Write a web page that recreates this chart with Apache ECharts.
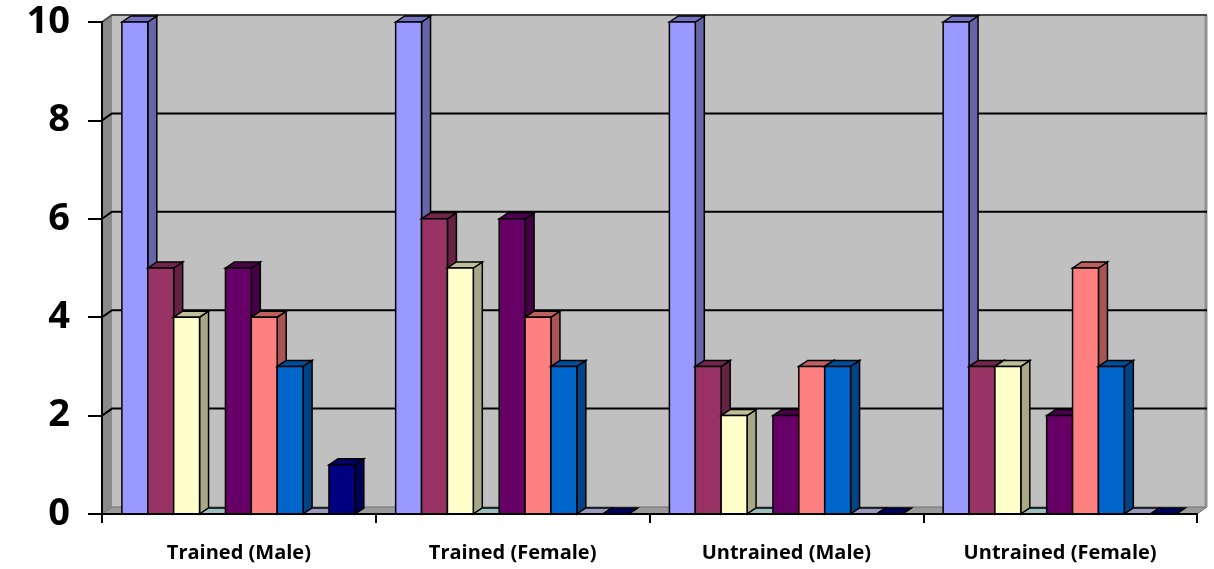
<!DOCTYPE html>
<html>
<head>
<meta charset="utf-8">
<script src="https://cdn.jsdelivr.net/npm/echarts@6/dist/echarts.min.js"></script>
<style>
  html, body { margin: 0; padding: 0; background: #ffffff; }
  #chart { width: 1214px; height: 569px; }
</style>
</head>
<body>
<div id="chart"></div>
<script>
// Groups along the x axis
const categories = ['Trained (Male)', 'Trained (Female)', 'Untrained (Male)', 'Untrained (Female)'];

// One array per column series (values per group)
const series1 = [10, 10, 10, 10];
const series2 = [5, 6, 3, 3];
const series3 = [4, 5, 2, 3];
const series4 = [0, 0, 0, 0];
const series5 = [5, 6, 2, 2];
const series6 = [4, 4, 3, 5];
const series7 = [3, 3, 3, 3];
const series8 = [0, 0, 0, 0];
const series9 = [1, 0, 0, 0];

// Value axis ticks
const yTicks = [0, 2, 4, 6, 8, 10];

const seriesValues = [series1, series2, series3, series4, series5, series6, series7, series8, series9];
const seriesColors = ['#9999FF', '#993366', '#FFFFCC', '#CCFFFF', '#660066', '#FF8080', '#0066CC', '#CCCCFF', '#000080'];

// Pseudo-3D depth of the walls and of the columns
const WALL_DX = 10, WALL_DY = -7;
const BAR_DX = 9, BAR_DY = -6;
// Column layout inside one category band
const GAP_FRAC = 20 / 275;
const BAR_FRAC = 26 / 275;

function shade(hex, f) {
  const n = parseInt(hex.slice(1), 16);
  const r = Math.round(((n >> 16) & 255) * f);
  const g = Math.round(((n >> 8) & 255) * f);
  const b = Math.round((n & 255) * f);
  return 'rgb(' + r + ',' + g + ',' + b + ')';
}

// Back wall, left side wall, floor and gridlines
function renderWalls(params, api) {
  const cs = params.coordSys;
  const x0 = cs.x, x1 = cs.x + cs.width;
  const yMax = yTicks[yTicks.length - 1];
  const yTop = api.coord([0, yMax])[1];
  const yBase = api.coord([0, yTicks[0]])[1];
  const children = [];
  children.push({
    type: 'rect',
    shape: { x: x0 + WALL_DX, y: yTop + WALL_DY, width: x1 - x0, height: yBase - yTop },
    style: { fill: '#C0C0C0' }
  });
  children.push({
    type: 'polygon',
    shape: { points: [[x0, yBase], [x0, yTop], [x0 + WALL_DX, yTop + WALL_DY], [x0 + WALL_DX, yBase + WALL_DY]] },
    style: { fill: '#8a8a8a' }
  });
  children.push({
    type: 'polygon',
    shape: { points: [[x0, yBase], [x1, yBase], [x1 + WALL_DX, yBase + WALL_DY], [x0 + WALL_DX, yBase + WALL_DY]] },
    style: { fill: '#9a9a9a', stroke: '#6e6e6e', lineWidth: 1 }
  });
  // right edge of the back wall
  children.push({
    type: 'line',
    shape: { x1: x1 + WALL_DX - 1, y1: yTop + WALL_DY, x2: x1 + WALL_DX - 1, y2: yBase + WALL_DY },
    style: { stroke: '#8f8f8f', lineWidth: 3 }
  });
  yTicks.forEach(function (v) {
    if (v === yTicks[0]) return;
    const y = api.coord([0, v])[1];
    const isTop = v === yMax;
    children.push({
      type: 'polyline',
      shape: { points: [[x0, y], [x0 + WALL_DX, y + WALL_DY], [x1 + WALL_DX, y + WALL_DY]] },
      style: { stroke: isTop ? '#4a4a4a' : '#000000', lineWidth: 2, fill: null }
    });
  });
  return { type: 'group', children: children };
}

// Column with front, top and right faces
function makeBarRenderer(seriesIndex) {
  const color = seriesColors[seriesIndex];
  const topColor = shade(color, 0.75);
  const sideColor = shade(color, 0.66);
  return function (params, api) {
    const cat = api.value(0);
    const val = api.value(1);
    const base = api.coord([cat, 0]);
    const top = api.coord([cat, val]);
    const cw = api.size([1, 0])[0];
    const bw = cw * BAR_FRAC;
    const left = base[0] - cw / 2 + cw * GAP_FRAC + seriesIndex * bw;
    const right = left + bw;
    const yT = top[1], yB = base[1];
    const stroke = { stroke: '#000000', lineWidth: 1.5, lineJoin: 'miter' };
    const children = [];
    children.push({
      type: 'polygon',
      shape: { points: [[right, yT], [right + BAR_DX, yT + BAR_DY], [right + BAR_DX, yB + BAR_DY], [right, yB]] },
      style: Object.assign({ fill: sideColor }, stroke)
    });
    children.push({
      type: 'polygon',
      shape: { points: [[left, yT], [left + BAR_DX, yT + BAR_DY], [right + BAR_DX, yT + BAR_DY], [right, yT]] },
      style: Object.assign({ fill: topColor }, stroke)
    });
    if (yB - yT > 0.5) {
      children.push({
        type: 'rect',
        shape: { x: left, y: yT, width: bw, height: yB - yT },
        style: Object.assign({ fill: color }, stroke)
      });
    }
    return { type: 'group', children: children };
  };
}

const series = [{
  type: 'custom',
  name: 'walls',
  z: 1,
  silent: true,
  renderItem: renderWalls,
  data: [[0, 0]]
}];
seriesValues.forEach(function (vals, i) {
  series.push({
    type: 'custom',
    name: 'Series ' + (i + 1),
    z: 5 + i,
    clip: false,
    renderItem: makeBarRenderer(i),
    encode: { x: 0, y: 1 },
    data: vals.map(function (v, c) { return [c, v]; })
  });
});

const chart = echarts.init(document.getElementById('chart'), null, { renderer: 'canvas' });
chart.setOption({
  animation: false,
  backgroundColor: '#ffffff',
  grid: { left: 102, right: 17, top: 22, bottom: 55, containLabel: false },
  xAxis: {
    type: 'category',
    data: categories,
    z: 50,
    axisLine: { show: true, lineStyle: { color: '#000000', width: 2 } },
    axisTick: { show: true, length: 9, lineStyle: { color: '#000000', width: 2 } },
    axisLabel: {
      margin: 29,
      color: '#000000',
      fontFamily: 'Open Sans',
      fontWeight: 'bold',
      fontSize: 20
    },
    splitLine: { show: false }
  },
  yAxis: {
    type: 'value',
    min: yTicks[0],
    max: yTicks[yTicks.length - 1],
    interval: 2,
    z: 50,
    axisLine: { show: true, lineStyle: { color: '#000000', width: 2 } },
    axisTick: { show: true, length: 14, lineStyle: { color: '#000000', width: 2 } },
    axisLabel: {
      margin: 32,
      color: '#000000',
      fontFamily: 'Open Sans',
      fontWeight: 'bold',
      fontSize: 38
    },
    splitLine: { show: false }
  },
  series: series
});
</script>
</body>
</html>
